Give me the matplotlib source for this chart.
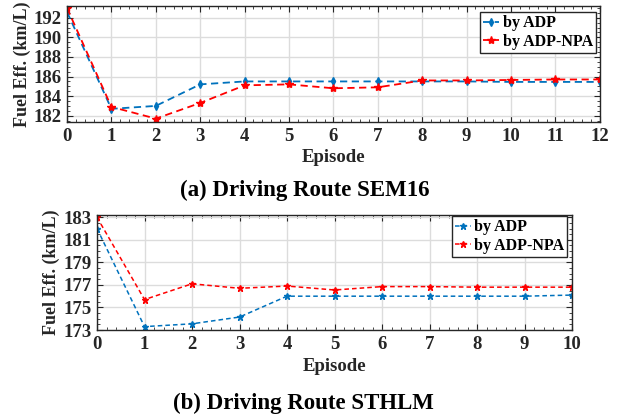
import numpy as np
import matplotlib
matplotlib.use("Agg")
import matplotlib.pyplot as plt
from matplotlib.ticker import MultipleLocator

# SEM16 route
ep_sem = list(range(13))
adp_sem = [192.6, 182.7, 183.0, 185.2, 185.5, 185.5, 185.5, 185.5, 185.5, 185.5, 185.45, 185.45, 185.45]
npa_sem = [193.0, 182.9, 181.7, 183.3, 185.1, 185.2, 184.8, 184.9, 185.6, 185.6, 185.65, 185.7, 185.7]

# STHLM route
ep_sth = list(range(11))
adp_sth = [182.0, 173.3, 173.55, 174.15, 176.0, 176.0, 176.0, 176.0, 176.0, 176.0, 176.1]
npa_sth = [183.0, 175.7, 177.1, 176.7, 176.9, 176.55, 176.85, 176.85, 176.8, 176.8, 176.8]

plt.rcParams['font.family'] = ['Liberation Serif', 'DejaVu Serif']
plt.rcParams['font.weight'] = 'bold'

BLUE = "#0072BD"
RED = "#FF0000"

fig = plt.figure(figsize=(6.21, 4.18), dpi=100)
ax1 = fig.add_axes([0.1079, 0.708, 0.858, 0.2775])
ax2 = fig.add_axes([0.1562, 0.2105, 0.765, 0.2751])


def style_axes(ax):
    ax.grid(True, color="#dcdcdc", linewidth=1.0)
    ax.set_axisbelow(True)
    ax.tick_params(which='both', direction='in', top=True, right=True, labelsize=13.5, colors='#262626')
    ax.tick_params(which='major', length=4, pad=4)
    ax.tick_params(which='minor', length=2.5)
    for s in ax.spines.values():
        s.set_color('#262626')
        s.set_linewidth(1.0)
    for lab in ax.get_xticklabels() + ax.get_yticklabels():
        lab.set_fontweight('bold')


leg_kw = dict(loc='upper right', fontsize=11.5, handlelength=1.0, handletextpad=0.2,
              borderpad=0.2, labelspacing=0.15, borderaxespad=0,
              fancybox=False, framealpha=1, edgecolor='#262626')

# (a) SEM16
ax1.plot(ep_sem, adp_sem, color=BLUE, linestyle=(0, (4, 2.5)), linewidth=1.3,
         marker='d', markersize=4, label="by ADP")
ax1.plot(ep_sem, npa_sem, color=RED, linestyle=(0, (4, 2.5)), linewidth=1.3,
         marker='*', markersize=6, label="by ADP-NPA")
ax1.set_xlim(0, 12)
ax1.set_ylim(181.35, 193.2)
ax1.set_xticks(range(0, 13))
ax1.set_yticks(range(182, 193, 2))
ax1.xaxis.set_minor_locator(MultipleLocator(0.2))
ax1.yaxis.set_minor_locator(MultipleLocator(0.5))
ax1.set_xlabel("Episode", fontsize=13.5, fontweight='bold', color='#262626', labelpad=3)
ax1.set_ylabel("Fuel Eff. (km/L)", fontsize=13, fontweight='bold', color='#262626', labelpad=2)
style_axes(ax1)
leg1 = ax1.legend(bbox_to_anchor=(0.9925, 0.948), **leg_kw)
leg1.get_frame().set_linewidth(1.0)

# (b) STHLM
ax2.plot(ep_sth, adp_sth, color=BLUE, linestyle=(0, (3, 2)), linewidth=1.1,
         marker='*', markersize=5, label="by ADP")
ax2.plot(ep_sth, npa_sth, color=RED, linestyle=(0, (3, 2)), linewidth=1.1,
         marker='*', markersize=5, label="by ADP-NPA")
ax2.set_xlim(0, 10)
ax2.set_ylim(173, 183.2)
ax2.set_xticks(range(0, 11))
ax2.set_yticks(range(173, 184, 2))
ax2.xaxis.set_minor_locator(MultipleLocator(0.2))
ax2.yaxis.set_minor_locator(MultipleLocator(0.5))
ax2.set_xlabel("Episode", fontsize=13.5, fontweight='bold', color='#262626', labelpad=4)
ax2.set_ylabel("Fuel Eff. (km/L)", fontsize=13, fontweight='bold', color='#262626', labelpad=2)
style_axes(ax2)
leg2 = ax2.legend(bbox_to_anchor=(0.99, 0.99), **leg_kw)
leg2.get_frame().set_linewidth(1.0)

fig.text(0.491, 0.545, "(a) Driving Route SEM16", ha='center', va='center',
         fontsize=16.5, fontweight='bold')
fig.text(0.488, 0.034, "(b) Driving Route STHLM", ha='center', va='center',
         fontsize=16.5, fontweight='bold')

fig.savefig("out.png", dpi=100)
